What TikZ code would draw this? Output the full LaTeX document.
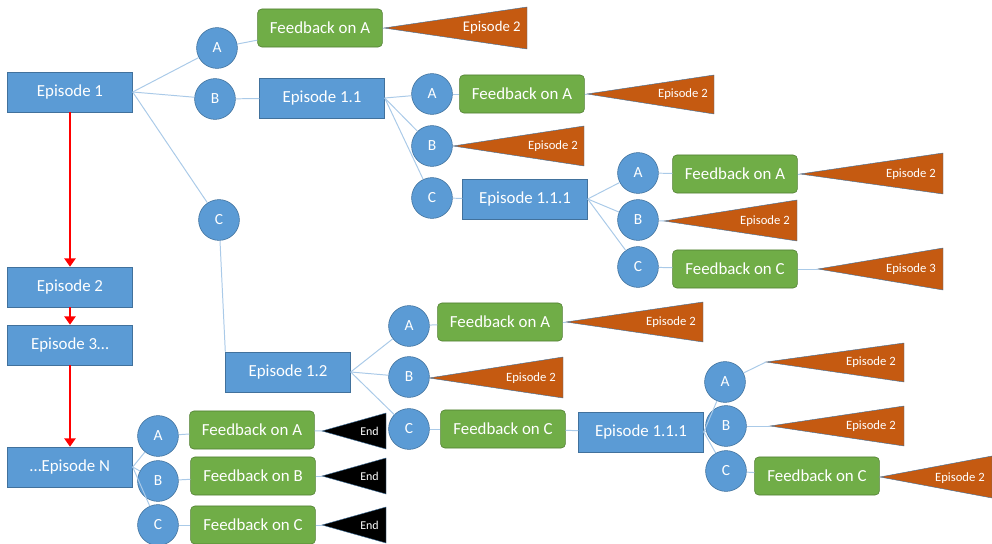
\documentclass[tikz,border=0pt]{standalone}
\usepackage{fontspec}
\setmainfont{Carlito}
\usetikzlibrary{arrows.meta}

\definecolor{epblue}{RGB}{91,155,213}
\definecolor{epedge}{RGB}{65,113,156}
\definecolor{fbgreen}{RGB}{112,173,71}
\definecolor{fbedge}{RGB}{80,126,50}
\definecolor{gorange}{RGB}{197,90,17}
\definecolor{linkblue}{RGB}{170,202,232}

\begin{document}
\begin{tikzpicture}[x=0.025cm,y=0.025cm,
  episode/.style={rectangle,fill=epblue,draw=epedge,line width=0.4pt,text=white,
    minimum width=3.12cm,minimum height=1cm,font=\fontsize{12}{14}\selectfont},
  feedback/.style={rectangle,rounded corners=3pt,fill=fbgreen,draw=fbedge,line width=0.4pt,
    text=white,minimum width=3.12cm,minimum height=0.95cm,font=\fontsize{12}{14}\selectfont},
  choice/.style={circle,fill=epblue,draw=epedge,line width=0.4pt,text=white,
    minimum size=1.02cm,inner sep=0pt,font=\fontsize{11}{13}\selectfont},
  link/.style={draw=linkblue,line width=0.7pt},
  nextep/.style={draw=red,line width=2pt,-{Triangle[width=8pt,length=6pt]}},
  goto/.style={fill=gorange,draw=epedge,line width=0.3pt},
  stop/.style={fill=black,draw=epedge,line width=0.3pt},
  golabel/.style={anchor=east,text=white,inner sep=0pt,font=\fontsize{9}{11}\selectfont}]
\useasboundingbox (0,0) rectangle (992,-544);

% main line of episodes
\node[episode] (ep1) at (70,-92) {Episode 1};
\node[episode] (ep2) at (70,-287) {Episode 2};
\node[episode] (ep3) at (70,-345) {Episode 3…};
\node[episode] (epN) at (70,-467) {…Episode N};
\draw[nextep] (ep1) -- (ep2);
\draw[nextep] (ep2) -- (ep3);
\draw[nextep] (ep3) -- (epN);

% choices in episode 1
\node[choice] (a1) at (217,-48) {A};
\node[choice] (b1) at (215,-99) {B};
\node[choice] (c1) at (219,-220) {C};
\node[feedback] (fa1) at (320,-28) {Feedback on A};
\node[episode] (ep11) at (322,-98) {Episode 1.1};
\node[episode] (ep12) at (288,-372) {Episode 1.2};
\coordinate (t1) at (384,-28);
\filldraw[goto] (t1) -- ++(143,21) -- ++(0,-42) -- cycle;
\node[golabel,font=\fontsize{10.5}{12}\selectfont] (l1) at (521,-28) {Episode 2};
\draw[link] (ep1.east) -- (a1);
\draw[link] (ep1.east) -- (b1);
\draw[link] (ep1.east) -- (c1);
\draw[link] (a1) -- (fa1);
\draw[link] (fa1) -- (t1);
\draw[link] (b1) -- (ep11);
\draw[link] (c1) -- (ep12.north west);

% episode 1.1
\node[choice] (a2) at (432,-94) {A};
\node[choice] (b2) at (432,-146) {B};
\node[choice] (c2) at (432,-198) {C};
\node[feedback] (fa2) at (522,-94) {Feedback on A};
\node[episode] (ep111) at (525,-199) {Episode 1.1.1};
\coordinate (t2) at (587,-94);
\filldraw[goto] (t2) -- ++(127,19) -- ++(0,-39) -- cycle;
\node[golabel] (l2) at (708,-94) {Episode 2};
\coordinate (t3) at (453,-146);
\filldraw[goto] (t3) -- ++(131,20) -- ++(0,-40) -- cycle;
\node[golabel] (l3) at (578,-146) {Episode 2};
\draw[link] (ep11.east) -- (a2);
\draw[link] (ep11.east) -- (b2);
\draw[link] (ep11.east) -- (c2);
\draw[link] (a2) -- (fa2);
\draw[link] (fa2) -- (t2);
\draw[link] (b2) -- (t3);
\draw[link] (c2) -- (ep111);

% episode 1.1.1 (upper)
\node[choice] (a3) at (638,-173) {A};
\node[choice] (b3) at (638,-220) {B};
\node[choice] (c3) at (638,-267) {C};
\node[feedback] (fa3) at (735,-174) {Feedback on A};
\node[feedback] (fc3) at (735,-269) {Feedback on C};
\coordinate (t4) at (800,-174);
\filldraw[goto] (t4) -- ++(143,21) -- ++(0,-41) -- cycle;
\node[golabel] (l4) at (936,-174) {Episode 2};
\coordinate (t5) at (664,-221);
\filldraw[goto] (t5) -- ++(133,21) -- ++(0,-41) -- cycle;
\node[golabel] (l5) at (790,-221) {Episode 2};
\coordinate (t6) at (818,-269);
\filldraw[goto] (t6) -- ++(125,21) -- ++(0,-42) -- cycle;
\node[golabel] (l6) at (936,-269) {Episode 3};
\draw[link] (ep111.east) -- (a3);
\draw[link] (ep111.east) -- (b3);
\draw[link] (ep111.east) -- (c3);
\draw[link] (a3) -- (fa3);
\draw[link] (fa3) -- (t4);
\draw[link] (b3) -- (t5);
\draw[link] (c3) -- (fc3);
\draw[link] (fc3) -- (t6);

% episode 1.2
\node[choice] (a4) at (409,-326) {A};
\node[choice] (b4) at (409,-377) {B};
\node[choice] (c4) at (409,-429) {C};
\node[feedback] (fa4) at (500,-322) {Feedback on A};
\node[feedback] (fc4) at (503,-429) {Feedback on C};
\node[episode] (ep111b) at (641,-432) {Episode 1.1.1};
\coordinate (t7) at (566,-322);
\filldraw[goto] (t7) -- ++(137,20) -- ++(0,-40) -- cycle;
\node[golabel] (l7) at (696,-322) {Episode 2};
\coordinate (t8) at (429,-378);
\filldraw[goto] (t8) -- ++(134,21) -- ++(0,-41) -- cycle;
\node[golabel] (l8) at (556,-378) {Episode 2};
\draw[link] (ep12.east) -- (a4);
\draw[link] (ep12.east) -- (b4);
\draw[link] (ep12.east) -- (c4);
\draw[link] (a4) -- (fa4);
\draw[link] (fa4) -- (t7);
\draw[link] (b4) -- (t8);
\draw[link] (c4) -- (fc4);
\draw[link] (fc4) -- (ep111b);

% episode 1.1.1 (lower)
\node[choice] (a5) at (725,-382) {A};
\node[choice] (b5) at (726,-426) {B};
\node[choice] (c5) at (726,-471) {C};
\node[feedback] (fc5) at (817,-476) {Feedback on C};
\coordinate (t9) at (766,-362);
\filldraw[goto] (t9) -- ++(138,19) -- ++(0,-39) -- cycle;
\node[golabel] (l9) at (896,-362) {Episode 2};
\coordinate (t10) at (770,-426);
\filldraw[goto] (t10) -- ++(134,20) -- ++(0,-40) -- cycle;
\node[golabel] (l10) at (896,-426) {Episode 2};
\coordinate (t11) at (880,-477);
\filldraw[goto] (t11) -- ++(112,21) -- ++(0,-42) -- cycle;
\node[golabel] (l11) at (985,-478) {Episode 2};
\draw[link] (ep111b.east) -- (a5);
\draw[link] (ep111b.east) -- (b5);
\draw[link] (ep111b.east) -- (c5);
\draw[link] (a5) -- (t9);
\draw[link] (b5) -- (t10);
\draw[link] (c5) -- (fc5);
\draw[link] (fc5) -- (t11);

% last episode
\node[choice] (a6) at (158,-436) {A};
\node[choice] (b6) at (158,-481) {B};
\node[choice] (c6) at (158,-525) {C};
\node[feedback] (fa6) at (252,-430) {Feedback on A};
\node[feedback] (fb6) at (253,-476) {Feedback on B};
\node[feedback] (fc6) at (253,-525) {Feedback on C};
\coordinate (e1) at (322,-431);
\filldraw[stop] (e1) -- ++(64,18) -- ++(0,-36) -- cycle;
\node[golabel,font=\fontsize{8.5}{10}\selectfont] (le1) at (379,-431) {End};
\coordinate (e2) at (322,-476);
\filldraw[stop] (e2) -- ++(64,18) -- ++(0,-36) -- cycle;
\node[golabel,font=\fontsize{8.5}{10}\selectfont] (le2) at (379,-476) {End};
\coordinate (e3) at (322,-525);
\filldraw[stop] (e3) -- ++(64,18) -- ++(0,-36) -- cycle;
\node[golabel,font=\fontsize{8.5}{10}\selectfont] (le3) at (379,-525) {End};
\draw[link] (epN.east) -- (a6);
\draw[link] (epN.east) -- (b6);
\draw[link] (epN.east) -- (c6);
\draw[link] (a6) -- (fa6);
\draw[link] (b6) -- (fb6);
\draw[link] (c6) -- (fc6);
\draw[link] (fa6) -- (e1);
\draw[link] (fb6) -- (e2);
\draw[link] (fc6) -- (e3);
\end{tikzpicture}
\end{document}
